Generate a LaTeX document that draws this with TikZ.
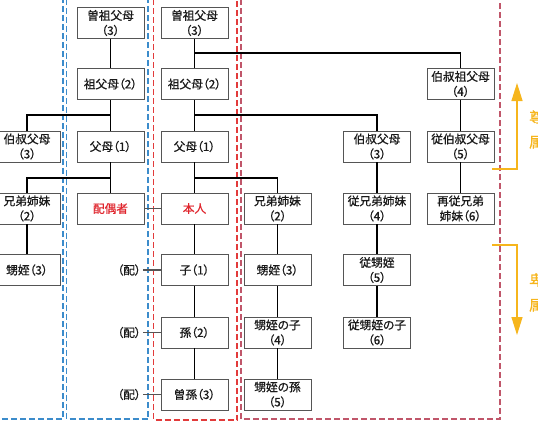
\documentclass[tikz,border=0pt]{standalone}
\usepackage{fontspec}
\setmainfont{Noto Sans CJK JP}[RawFeature={+palt;embolden=0.8}]
\usetikzlibrary{arrows.meta}
\definecolor{boxgray}{HTML}{555555}
\definecolor{redtxt}{HTML}{E0262E}
\definecolor{dblue}{HTML}{3C8CCB}
\definecolor{dred}{HTML}{E23B3B}
\definecolor{dred2}{HTML}{C0566A}
\definecolor{ylw}{HTML}{F6B51C}
\definecolor{txt}{HTML}{1A1A1A}
\tikzset{
  box/.style={draw=boxgray, line width=0.8pt, fill=white, minimum width=67pt, minimum height=31pt,
    inner sep=1pt, align=center, text=txt, font=\fontsize{11.7}{15}\selectfont},
  tree/.style={line width=1.6pt, black},
  spouse/.style={line width=1.6pt, boxgray},
  bluedash/.style={dblue, line width=1.1pt, dash pattern=on 6pt off 3pt},
  reddash/.style={dred, line width=1.1pt, dash pattern=on 6pt off 3pt},
  reddashb/.style={dred2, line width=1.1pt, dash pattern=on 6pt off 3pt},
  yarrow/.style={ylw, line width=1.2pt, -{Triangle[length=18pt,width=11pt]}},
  ylabel/.style={text=ylw, anchor=west, align=left, inner sep=0pt, font=\fontsize{14.5}{25}\selectfont},
  hai/.style={anchor=east, inner sep=0pt, text=txt, font=\fontsize{11.7}{14}\selectfont}
}
\begin{document}
\begin{tikzpicture}[x=1pt,y=-1pt]
\useasboundingbox (0,0) rectangle (538,426);
\clip (0,0) rectangle (538,426);
% dashed groups
\draw[bluedash] (-10,-10) rectangle (63,419);
\draw[bluedash] (66.5,-10) rectangle (148,419);
\draw[reddash] (153.5,-10) rectangle (237,420);
\draw[reddashb] (241,-10) rectangle (500,419);
% boxes
\node[box] (L1) at (27,146.5) {伯叔父母\\（3）};
\node[box] (L2) at (27,208.5) {兄弟姉妹\\（2）};
\node[box] (L3) at (27,270) {甥姪（3）};
\node[box] (A1) at (110.5,23) {曽祖父母\\（3）};
\node[box] (A2) at (110.5,84) {祖父母（2）};
\node[box] (A3) at (110.5,146.5) {父母（1）};
\node[box, text=redtxt] (SP) at (110.5,208.5) {配偶者};
\node[box] (C0) at (194.5,23) {曽祖父母\\（3）};
\node[box] (C1) at (194.5,84) {祖父母（2）};
\node[box] (C2) at (194.5,146.5) {父母（1）};
\node[box, text=redtxt] (C3) at (194.5,208.5) {本人};
\node[box] (C4) at (194.5,270) {子（1）};
\node[box] (C5) at (194.5,332.5) {孫（2）};
\node[box] (C6) at (194.5,394.5) {曽孫（3）};
\node[box] (S1) at (277.5,208.5) {兄弟姉妹\\（2）};
\node[box] (S2) at (277.5,270) {甥姪（3）};
\node[box] (S3) at (277.5,332.5) {甥姪の子\\（4）};
\node[box] (S4) at (277.5,394.5) {甥姪の孫\\（5）};
\node[box] (U1) at (377,146.5) {伯叔父母\\（3）};
\node[box] (U2) at (377,208.5) {従兄弟姉妹\\（4）};
\node[box] (U3) at (377,270) {従甥姪\\（5）};
\node[box] (U4) at (377,332.5) {従甥姪の子\\（6）};
\node[box] (G1) at (460.5,84) {伯叔祖父母\\（4）};
\node[box] (G2) at (460.5,146.5) {従伯叔父母\\（5）};
\node[box] (G3) at (460.5,208.5) {再従兄弟\\姉妹（6）};
% tree lines
\coordinate (a2) at (110.5,115);
\coordinate (a3) at (110.5,178);
\coordinate (b1) at (194.5,53);
\coordinate (b2) at (194.5,115);
\coordinate (b3) at (194.5,178);
\draw[tree] (A1) -- (A2);
\draw[tree] (A2) -- (A3);
\draw[tree] (A3) -- (SP);
\draw[tree] (a2) -| (L1.north);
\draw[tree] (a3) -| (L2.north);
\draw[tree] (L2) -- (L3);
\draw[tree] (C0) -- (C1);
\draw[tree] (C1) -- (C2);
\draw[tree] (C2) -- (C3);
\draw[tree] (C3) -- (C4);
\draw[tree] (C4) -- (C5);
\draw[tree] (C5) -- (C6);
\draw[tree] (b1) -| (G1.north);
\draw[tree] (b2) -| (U1.north);
\draw[tree] (b3) -| (S1.north);
\draw[tree] (S1) -- (S2);
\draw[tree] (S2) -- (S3);
\draw[tree] (S3) -- (S4);
\draw[tree] (U1) -- (U2);
\draw[tree] (U2) -- (U3);
\draw[tree] (U3) -- (U4);
\draw[tree] (G1) -- (G2);
\draw[tree] (G2) -- (G3);
% spouse links
\draw[spouse] (SP) -- (C3);
\node[hai] (H1) at (141,270) {（配）};
\node[hai] (H2) at (141,332.5) {（配）};
\node[hai] (H3) at (141,394.5) {（配）};
\draw[spouse] (H1.east) ++(2,0) -- (C4.west);
\draw[spouse] (H2.east) ++(2,0) -- (C5.west);
\draw[spouse] (H3.east) ++(2,0) -- (C6.west);
% ancestor / descendant arrows
\coordinate (u0) at (492,169);
\coordinate (u1) at (517,83);
\coordinate (d0) at (492,245);
\coordinate (d1) at (517,335);
\draw[yarrow] (u0) -| (u1);
\draw[yarrow] (d0) -| (d1);
\node[ylabel] (T1) at (529,129.5) {尊\\属};
\node[ylabel] (T2) at (529,292.5) {卑\\属};
\end{tikzpicture}
\end{document}
